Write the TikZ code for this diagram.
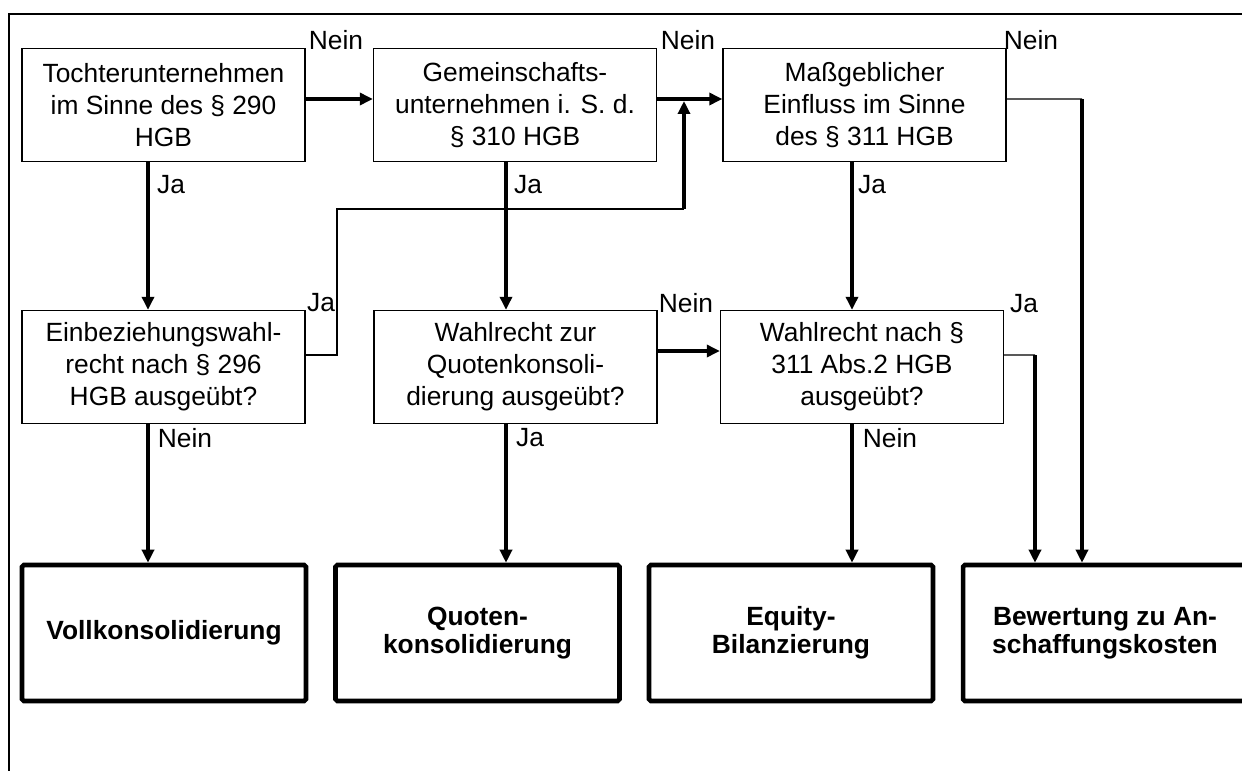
\documentclass[tikz,border=0pt]{standalone}
\usepackage{fontspec}
\setmainfont{Liberation Sans}
\usepackage{tikz}
\usetikzlibrary{arrows.meta, positioning, calc}

\begin{document}
\begin{tikzpicture}[
      x=0.02cm, y=-0.02cm,
      font=\fontsize{15}{18.2}\selectfont,
      test/.style={draw, line width=0.8pt, minimum width=5.66cm, minimum height=2.26cm,
                   inner sep=2pt, align=center},
      result/.style={draw, line width=2.6pt, rounded corners=1pt, minimum width=5.68cm,
                   minimum height=2.72cm, align=center,
                   font=\fontsize{15}{16.2}\selectfont\bfseries},
      lbl/.style={inner sep=0pt},
      flow/.style={line width=2pt, -{Triangle[length=2.6mm, width=2.4mm]}},
      link/.style={line width=0.8pt},
    ]
    \useasboundingbox (0,0) rectangle (1242,771);
    \clip (0,0) rectangle (1242,771);
    % lane x positions of the vertical connectors
    \def\xa{148} \def\xb{506} \def\xc{852}

    % --- outer frame (only top and left edge visible) ---
    \draw[link] (1242,14) -- (9,14) -- (9,771);

    % --- first row: which kind of company ---
    \node[test] (tu) at (163.5,105) {Tochterunternehmen\\im Sinne des § 290\\HGB};
    \node[test] (gu) at (515,105)   {Gemeinschafts-\\unternehmen i. S. d.\\§ 310 HGB};
    \node[test] (me) at (864.5,105) {Maßgeblicher\\Einfluss im Sinne\\des § 311 HGB};

    % --- second row: options ---
    \node[test] (ew) at (163.5,367) {Einbeziehungswahl-\\recht nach § 296\\HGB ausgeübt?};
    \node[test] (wq) at (515.5,367) {Wahlrecht zur\\Quotenkonsoli-\\dierung ausgeübt?};
    \node[test] (wa) at (862,367)   {Wahlrecht nach §\\311 Abs.2 HGB\\ausgeübt?};

    % --- results ---
    \node[result] (vk) at (164,633)   {Vollkonsolidierung};
    \node[result] (qk) at (477.5,633) {Quoten-\\konsolidierung};
    \node[result] (eb) at (791,633)   {Equity-\\Bilanzierung};
    \node[result] (bw) at (1105,633)  {Bewertung zu An-\\schaffungskosten};

    % --- bend points ---
    \coordinate (fb1) at (337,209);
    \coordinate (fb2) at (684,209);
    \coordinate (fbtip) at (684,101);
    \coordinate (mc) at (1082,99);
    \coordinate (wc) at (1035,355);

    % --- "Nein" chain along the first row ---
    \draw[flow] ([yshift=0.12cm]tu.east) -- ([yshift=0.12cm]gu.west);
    \draw[flow] ([yshift=0.12cm]gu.east) -- ([yshift=0.12cm]me.west);
    \draw[link] ([yshift=0.12cm]me.east) -- (mc);
    \draw[flow] (mc) -- (mc |- bw.north);

    % --- "Ja" down to the second row ---
    \draw[flow] (tu.south -| \xa,0) -- (ew.north -| \xa,0);
    \draw[flow] (gu.south -| \xb,0) -- (wq.north -| \xb,0);
    \draw[flow] (me.south -| \xc,0) -- (wa.north -| \xc,0);

    % --- feedback from the option of § 296 ---
    \draw[link] ([yshift=0.24cm]ew.east) -| (fb1) -- (fb2);
    \draw[flow] (fb2) -- (fbtip);

    % --- second row to the results ---
    \draw[flow] ([yshift=0.32cm]wq.east) -- ([yshift=0.32cm]wa.west);
    \draw[link] ([yshift=0.24cm]wa.east) -- (wc);
    \draw[flow] (wc) -- (wc |- bw.north);
    \draw[flow] (ew.south -| \xa,0) -- (vk.north -| \xa,0);
    \draw[flow] (wq.south -| \xb,0) -- (qk.north -| \xb,0);
    \draw[flow] (wa.south -| \xc,0) -- (eb.north -| \xc,0);

    % --- labels ---
    \node[lbl] (n1) at (336,40)  {Nein};
    \node[lbl] (n2) at (688,40)  {Nein};
    \node[lbl] (n3) at (1031,40) {Nein};
    \node[lbl] (j1) at (171,185) {Ja};
    \node[lbl] (j2) at (528,185) {Ja};
    \node[lbl] (j3) at (872,185) {Ja};
    \node[lbl] (j4) at (321,303) {Ja};
    \node[lbl] (n4) at (686,303) {Nein};
    \node[lbl] (j5) at (1024,304) {Ja};
    \node[lbl] (n5) at (185,438) {Nein};
    \node[lbl] (j6) at (530,438) {Ja};
    \node[lbl] (n6) at (890,438) {Nein};
  \end{tikzpicture}
\end{document}
